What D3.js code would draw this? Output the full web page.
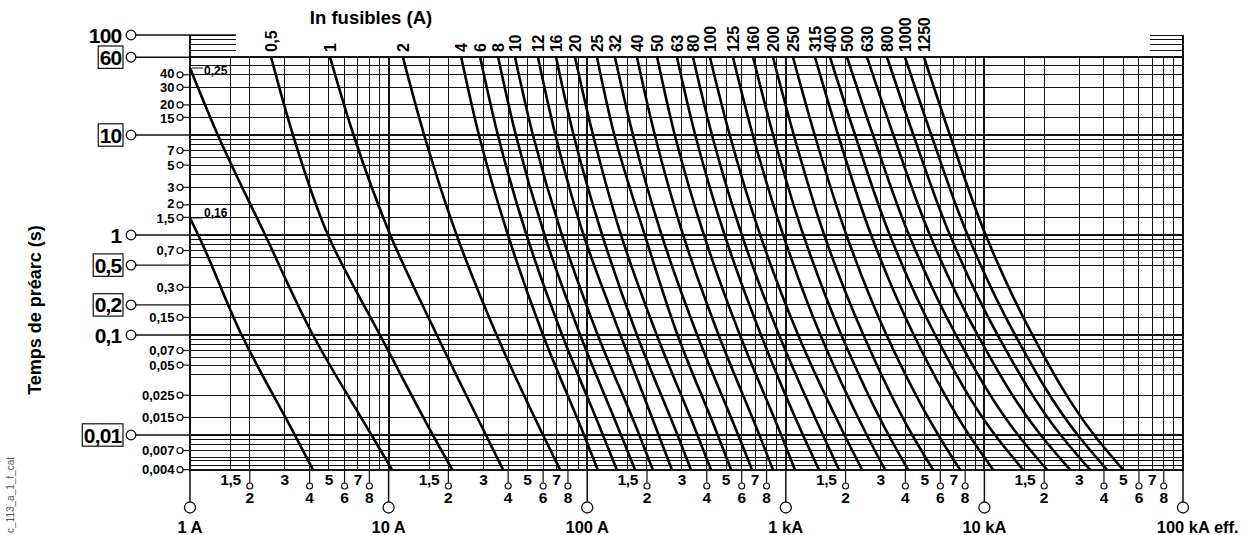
<!DOCTYPE html>
<html><head><meta charset="utf-8">
<script src="https://cdn.jsdelivr.net/npm/d3@7"></script>
<style>
body{margin:0;background:#fff}
svg{display:block}
text{font-family:"Liberation Sans",Arial,Helvetica,sans-serif;font-weight:bold;fill:#000}
</style>
</head><body>
<svg id="c" width="1252" height="535"></svg>
<script>
// ---------------- DATA ----------------
const ratingLabels = ["0,5","1","2","4","6","8","10","12","16","20","25","32","40","50","63","80","100","125","160","200","250","315","400","500","630","800","1000","1250"];
// pre-arcing time levels (s) at which currents were read for each fuse curve
const timeLevels = [60, 10, 1, 0.1, 0.01, 0.0045];
// melting currents (A) at those time levels, one row per rating
const meltCurrents = [
  [2.56, 3.30, 4.95, 9.05, 16.7, 20.9],
  [5.07, 6.66, 10.2, 17.5, 30.9, 37.7],
  [11.8, 15.1, 22.0, 35.0, 59.9, 73.0],
  [23.2, 28.5, 39.9, 59.9, 96.4, 113],
  [28.9, 35.5, 49.5, 74.8, 120, 141],
  [35.6, 43.7, 61.0, 92.2, 148, 174],
  [43.3, 53.3, 74.6, 113, 183, 214],
  [56.5, 69.2, 95.9, 147, 229, 267],
  [69.7, 85.4, 119, 178, 285, 333],
  [86.8, 107, 148, 224, 359, 420],
  [112, 137, 195, 285, 454, 530],
  [138, 170, 237, 358, 576, 676],
  [178, 219, 304, 459, 736, 862],
  [225, 276, 387, 587, 948, 1112],
  [283, 350, 492, 750, 1220, 1469],
  [341, 425, 601, 925, 1538, 1853],
  [415, 522, 743, 1154, 1975, 2420],
  [542, 682, 970, 1494, 2558, 3158],
  [684, 864, 1226, 1905, 3293, 4124],
  [862, 1097, 1561, 2459, 4330, 5510],
  [1087, 1398, 2019, 3214, 5860, 7536],
  [1403, 1834, 2689, 4411, 8366, 11050],
  [1670, 2233, 3339, 5653, 11310, 15650],
  [2034, 2748, 4172, 7195, 14760, 20660],
  [2563, 3482, 5316, 9244, 19190, 26980],
  [3233, 4391, 6704, 11660, 24200, 34010],
  [3983, 5403, 8231, 14280, 29500, 41430],
  [4965, 6704, 10150, 17470, 35680, 49880]
];
// the two smallest fuses start on the 1 A edge
const fuse025Times = [46.8, 10, 1, 0.1, 0.01, 0.0045];
const fuse025Currents = [1, 1.38, 2.39, 4.16, 8.20, 10.4];
const fuse016Times = [1.48, 1, 0.1, 0.01, 0.0045];
const fuse016Currents = [1, 1.10, 1.82, 3.37, 4.16];

// Y axis ticks
const yMajorValues = [100, 60, 10, 1, 0.5, 0.2, 0.1, 0.01];
const yMajorLabels = ["100","60","10","1","0,5","0,2","0,1","0,01"];
const yMajorBoxed = [false, true, true, false, true, true, false, true];
const yMinorValues = [40, 30, 20, 15, 7, 5, 3, 2, 1.5, 0.7, 0.3, 0.15, 0.07, 0.05, 0.025, 0.015, 0.007, 0.0045];
const yMinorLabels = ["40","30","20","15","7","5","3","2","1,5","0,7","0,3","0,15","0,07","0,05","0,025","0,015","0,007","0,004"];
// horizontal grid
const hGridThin = [50,40,30,20,15, 9,8,7,6,5,4,3,2,1.5, 0.9,0.8,0.7,0.6,0.5,0.3,0.2,0.15,
                   0.09,0.08,0.07,0.06,0.05,0.04,0.025,0.015, 0.009,0.008,0.007,0.006,0.0055,0.005];
const hGridThick = [10, 1, 0.1, 0.01];
const stubValues = [100, 90, 80, 70];

// X axis ticks
const xDecades = [1, 10, 100, 1000, 10000];
const xMajorValues = [1, 10, 100, 1000, 10000, 100000];
const xMajorLabels = ["1 A","10 A","100 A","1 kA","10 kA","100 kA"];
const xGridFactors = [1.6, 2, 3, 4, 5, 6, 7, 8, 9];
const xOddFactors = [1.6, 3, 5, 7];
const xOddLabels = ["1,5","3","5","7"];
const xEvenFactors = [2, 4, 6, 8];
const xEvenLabels = ["2","4","6","8"];

// ---------------- CHART ----------------
const svg = d3.select("#c");
const x = d3.scaleLog().domain([1, 1e5]).range([190, 1183]);
const y = d3.scaleLog().domain([0.01, 100]).range([435, 35]);
const tTop = 60, tMin = 0.0045;
const yTop = y(tTop), yBot = y(tMin);
const xL = x(1), xR = x(1e5);
const ink = "#111";

const grid = svg.append("g").attr("stroke", ink).attr("shape-rendering","crispEdges");
grid.selectAll(".ht").data(hGridThin).join("line")
  .attr("x1", xL).attr("x2", xR).attr("y1", d=>y(d)).attr("y2", d=>y(d)).attr("stroke-width", 1);
grid.selectAll(".hT").data(hGridThick).join("line")
  .attr("x1", xL).attr("x2", xR).attr("y1", d=>y(d)).attr("y2", d=>y(d)).attr("stroke-width", 2);
const vThin = [];
xDecades.forEach(d => xGridFactors.forEach(f => vThin.push(d*f)));
grid.selectAll(".vt").data(vThin).join("line")
  .attr("x1", d=>x(d)).attr("x2", d=>x(d)).attr("y1", yTop).attr("y2", yBot).attr("stroke-width", 1);
grid.selectAll(".vT").data([10,100,1000,10000]).join("line")
  .attr("x1", d=>x(d)).attr("x2", d=>x(d)).attr("y1", yTop).attr("y2", yBot).attr("stroke-width", 2);
grid.append("rect").attr("x", xL).attr("y", yTop).attr("width", xR-xL).attr("height", yBot-yTop)
  .attr("fill","none").attr("stroke-width", 2);
grid.selectAll(".sl").data(stubValues).join("line")
  .attr("x1", xL).attr("x2", x(1.7)).attr("y1", d=>y(d)).attr("y2", d=>y(d)).attr("stroke-width", 1);
grid.selectAll(".sr").data(stubValues).join("line")
  .attr("x1", x(68000)).attr("x2", xR).attr("y1", d=>y(d)).attr("y2", d=>y(d)).attr("stroke-width", 1);
grid.append("line").attr("x1", xL).attr("x2", xL).attr("y1", y(100)).attr("y2", yTop).attr("stroke-width", 2);
grid.append("line").attr("x1", xR).attr("x2", xR).attr("y1", y(100)).attr("y2", yTop).attr("stroke-width", 2);

// fuse curves
const line = d3.line().x(d=>x(d[0])).y(d=>y(d[1])).curve(d3.curveMonotoneY);
const curves = svg.append("g").attr("fill","none").attr("stroke","#000").attr("stroke-width",2.6);
meltCurrents.forEach(row => {
  curves.append("path").attr("d", line(row.map((c,i)=>[c, timeLevels[i]])));
});
curves.append("path").attr("d", line(fuse025Currents.map((c,i)=>[c, fuse025Times[i]])));
curves.append("path").attr("d", line(fuse016Currents.map((c,i)=>[c, fuse016Times[i]])));

// small labels for 0.25 / 0.16
[[fuse025Times[0],"0,25",7],[fuse016Times[0],"0,16",-1]].forEach(([t,lab,dy])=>{
  svg.append("line").attr("x1", xL+2).attr("x2", xL+13).attr("y1", y(t)).attr("y2", y(t))
    .attr("stroke", ink).attr("stroke-width",1);
  svg.append("text").attr("x", xL+14).attr("y", y(t)+dy).attr("font-size", 12).text(lab);
});

// rating labels at top (rotated)
svg.selectAll(".rl").data(ratingLabels).join("text")
  .attr("transform", (d,i)=>`translate(${x(meltCurrents[i][0])},52) rotate(-90)`)
  .attr("dy","0.36em").attr("font-size", 16).attr("letter-spacing", -0.3).text(d=>d);
svg.append("text").attr("x", 371).attr("y", 24).attr("text-anchor","middle")
  .attr("font-size", 18.5).text("In fusibles (A)");

// Y major ticks
const ym = svg.append("g");
yMajorValues.forEach((v,i)=>{
  const yy = y(v);
  ym.append("line").attr("x1", 136).attr("x2", v===100 ? x(1.7) : xL).attr("y1", yy).attr("y2", yy)
    .attr("stroke", ink).attr("stroke-width", 1.4);
  ym.append("circle").attr("cx", 131).attr("cy", yy).attr("r", 4.8)
    .attr("fill","#fff").attr("stroke", ink).attr("stroke-width", 1.3);
  const t = ym.append("text").attr("x", 121.5).attr("y", yy).attr("dy","0.36em")
    .attr("text-anchor","end").attr("font-size", 21).attr("letter-spacing", -0.8).text(yMajorLabels[i]);
  if (yMajorBoxed[i]) {
    const b = t.node().getBBox();
    ym.append("rect").attr("x", b.x-1.5).attr("y", yy-11.2).attr("width", 123-(b.x-1.5)).attr("height", 22.4)
      .attr("fill","none").attr("stroke", ink).attr("stroke-width", 1.2);
  }
});
// Y minor ticks (tightly stacked labels nudged apart by a pixel)
const nudge = {"40":-1.2, "30":0.3, "20":-0.8, "15":1.2, "2":-1.2, "1,5":1.2};
const yn = svg.append("g");
yMinorValues.forEach((v,i)=>{
  const yy = y(v);
  yn.append("line").attr("x1", 183).attr("x2", xL).attr("y1", yy).attr("y2", yy).attr("stroke", ink).attr("stroke-width", 1.2);
  yn.append("circle").attr("cx", 180).attr("cy", yy).attr("r", 3)
    .attr("fill","#fff").attr("stroke", ink).attr("stroke-width", 1.2);
  yn.append("text").attr("x", 174.5).attr("y", yy + (nudge[yMinorLabels[i]] || 0)).attr("dy","0.36em")
    .attr("text-anchor","end").attr("font-size", 13).attr("letter-spacing", 0).text(yMinorLabels[i]);
});

// X ticks
const xt = svg.append("g");
xDecades.forEach(d=>{
  xOddFactors.forEach((f,i)=>{
    xt.append("text").attr("x", x(d*f)).attr("y", 485).attr("text-anchor","middle")
      .attr("font-size", 15.5).attr("letter-spacing", -0.3).text(xOddLabels[i]);
  });
  xEvenFactors.forEach((f,i)=>{
    const xx = x(d*f);
    xt.append("line").attr("x1", xx).attr("x2", xx).attr("y1", yBot).attr("y2", 483).attr("stroke", ink).attr("stroke-width", 1.2);
    xt.append("circle").attr("cx", xx).attr("cy", 486).attr("r", 3)
      .attr("fill","#fff").attr("stroke", ink).attr("stroke-width", 1.2);
    xt.append("text").attr("x", xx).attr("y", 503).attr("text-anchor","middle")
      .attr("font-size", 15.5).text(xEvenLabels[i]);
  });
});
xMajorValues.forEach((v,i)=>{
  const xx = x(v);
  xt.append("line").attr("x1", xx).attr("x2", xx).attr("y1", yBot).attr("y2", 502).attr("stroke", ink).attr("stroke-width", 1.5);
  xt.append("circle").attr("cx", xx).attr("cy", 507.5).attr("r", 5.5)
    .attr("fill","#fff").attr("stroke", ink).attr("stroke-width", 1.3);
  const t = xt.append("text").attr("y", 533).attr("font-size", 16.5);
  t.append("tspan").text(xMajorLabels[i]);
  if (i === xMajorValues.length-1) t.append("tspan").text(" eff.");
  const w = t.select("tspan").node().getComputedTextLength();
  t.attr("x", xx - w/2);
});

// axis title
svg.append("text").attr("transform","translate(41,310) rotate(-90)").attr("text-anchor","middle")
  .attr("font-size", 18).text("Temps de préarc (s)");
// reference code
svg.append("text").attr("transform","translate(14,533) rotate(-90)")
  .attr("font-size", 10).style("font-weight","normal").style("fill","#555")
  .text("c_113_a_1_f_cat");
</script>
</body></html>
